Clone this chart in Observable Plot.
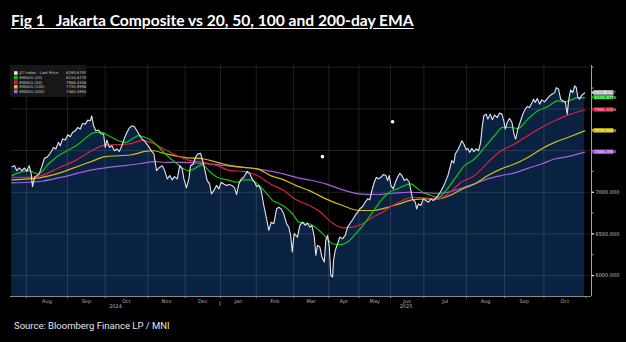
<!DOCTYPE html>
<html><head><meta charset="utf-8">
<script src="https://cdn.jsdelivr.net/npm/d3@7"></script>
<script src="https://cdn.jsdelivr.net/npm/@observablehq/plot@0.6"></script>
<style>
html,body{margin:0;padding:0;background:#000;}
#wrap{position:relative;width:626px;height:342px;background:#000;overflow:hidden;}
#title{position:absolute;left:11px;top:11px;color:#fff;font:bold 15.6px Lato, sans-serif;text-decoration:underline;text-underline-offset:2px;white-space:nowrap;}
#chart{position:absolute;left:0;top:55px;}
#source{position:absolute;left:14px;top:320px;color:#e6e6e6;font:9.5px Roboto, sans-serif;white-space:nowrap;}
</style></head>
<body><div id="wrap">
<div id="title">Fig 1&nbsp;&nbsp; Jakarta Composite vs 20, 50, 100 and 200-day EMA</div>
<div id="chart"></div>
<div id="source">Source: Bloomberg Finance LP / MNI</div>
</div>
<script>
// x = trading-day index from the start of the window (mid-Jul 2024)
const priceDay = [0.7,2.2,3.4,4.7,6.1,7.6,8.8,10.1,11.2,11.9,13,14.2,15.5,16.9,18.4,19.6,20.9,22.3,23.2,24.5,25.9,26.9,28.1,29.6,31,32.3,33.5,35,36.4,37.7,38.9,40.4,41.8,43.1,43.9,44.9,46.1,47.6,49,50.3,51.2,52.1,53.4,54.8,56.2,57.5,58.8,60.2,61.6,62.9,64.2,65.6,67,68.3,69.6,71,72.4,73.7,75,76.1,77.5,78.9,80.2,82,83.2,84.7,86.1,87.4,88.6,90.1,91.5,92.8,93.7,95.1,96.4,97.3,98.8,100,101.2,102.7,103.6,104.9,106.3,107.6,108.6,109.9,111.4,112.6,113.9,115.3,116.8,118,119.8,121.1,122.2,123.4,124.7,126.1,127.9,129.4,130.6,131.9,133,134.2,135.5,136.9,138.4,139.6,140.9,142.3,143.8,145,146.3,147.7,149.2,150.4,151.4,152.3,153.3,155.1,156.4,157.8,159.3,160.5,161.8,162.9,164.2,165,165.9,167.2,168.3,169.6,170.4,171.4,172.3,173.1,174.1,174.6,175.5,176.8,178,179.5,180.9,182.2,183.4,184.9,186.3,187.6,188.8,190.3,191.7,193,194.2,195.3,196.6,197.8,198.9,200.2,201.5,202.9,203.8,204.7,205.6,206.9,208,209.2,210.4,211.5,212.8,214.1,215.5,216.4,217.3,218.8,219.5,220.5,221.8,223.1,224.5,225.9,227.2,228.5,229.9,231.2,232.8,234.6,236.4,237.8,238.5,239.6,240.4,241.5,242.7,243.9,245,246.3,247.2,248.1,249.4,250.4,251.7,253,254.1,254.8,255.8,257.1,258,259.3,260.4,261.6,263.1,264.3,265.6,266.6,267.4,268.5,269.7,271,272.1,273,274.2,275.7,276.9,278.2,279.3,280.5,281.5,282.7,283.6,284.7,285.9,287.2,288.6,290.1,291.4,292.6,294.1,295,296.2,297.3,298.5,299.8,300.9,301.6,302.7,303.9,304.9,305.8,306.6,307.6,308.5,309.4,310.3];
const priceVal = [7307,7319,7259,7291,7259,7291,7251,7319,7220,7068,7179,7200,7220,7307,7411,7418,7450,7498,7538,7519,7598,7558,7638,7626,7690,7666,7717,7737,7777,7758,7825,7817,7865,7857,7917,7797,7737,7746,7698,7698,7538,7626,7538,7558,7498,7519,7490,7558,7650,7717,7770,7797,7785,7737,7690,7638,7618,7578,7538,7498,7460,7259,7291,7319,7268,7160,7200,7148,7188,7160,7319,7280,7160,7053,7160,7319,7339,7418,7459,7466,7399,7280,7140,7100,6981,7020,7080,7041,7120,7100,7080,7092,7080,7053,6973,7100,7160,7179,7251,7220,7160,7120,7068,7080,7020,6841,6682,6542,6641,6622,6801,6821,6801,6742,6622,6582,6483,6283,6505,6462,6602,6641,6602,6629,6582,6602,6462,6244,6363,6343,6223,6163,6423,6483,6343,6005,5984,6184,6303,6383,6462,6443,6483,6582,6622,6670,6722,6761,6801,6829,6880,6921,6909,7020,7120,7179,7160,7179,7212,7200,7140,7200,7080,7041,7120,7179,7227,7200,7140,7160,7120,7020,6921,6880,6801,6861,6841,6921,6901,6880,6921,6901,6933,6961,7020,7100,7200,7319,7379,7351,7459,7498,7550,7618,7578,7510,7526,7478,7526,7486,7519,7498,7598,7758,7917,7937,7877,7937,7869,7925,7896,7949,7937,7857,7758,7837,7884,7837,7698,7638,7758,7857,7937,7997,8028,8016,8057,8116,8076,8124,8057,8108,8084,8124,8156,8176,8195,8255,8236,8116,8096,8084,7937,8096,8227,8195,8275,8255,8135,8116,8156,8176,8190.68];

const ema20Day = [0.7,9.7,15.1,20.5,25.9,31.4,36.8,42.2,45.8,49.4,53,58.4,62,65.6,69.2,72.8,75.7,79.3,84.7,90.1,93.7,96.4,100,103.6,107.2,111.7,117.1,122.5,126.1,129.7,133.4,137.8,142.3,145,148.6,152.4,156,161.5,166.9,170.4,174.1,177.7,182.2,186.6,191.2,195.7,200.2,204.7,209.2,212.8,216.4,219.1,222.7,227.2,231.2,234.6,240,245.4,250.8,256.2,261.6,266.1,270.6,274.2,279.6,285,290.4,295.8,299.5,303.1,306.6,310.3];
const ema20Val = [7200,7259,7220,7339,7438,7507,7578,7678,7717,7717,7678,7618,7598,7638,7678,7657,7626,7558,7438,7339,7280,7259,7291,7331,7259,7179,7148,7120,7148,7148,7100,7000,6892,6868,6821,6742,6641,6622,6542,6462,6383,6371,6403,6503,6622,6761,6901,7000,7041,7080,7100,7060,7000,6961,6935,7000,7160,7319,7399,7538,7678,7777,7777,7765,7877,7976,8028,8096,8084,8108,8135,8134.88];

const ema50Day = [0.7,9.7,16.9,25.9,35,43.9,51.2,58.4,65.6,71,75.7,82.9,90.1,97.3,104.5,111.7,118.9,126.1,133.4,140.5,147.7,154.4,159.6,166.9,174.1,179.5,184.9,190.3,195.7,201.1,206.5,211.9,217.3,224.5,231.2,236.4,243.6,250.8,258,265.2,272.4,279.6,286.9,294.1,301.2,310.3];
const ema50Val = [7179,7179,7200,7291,7379,7498,7566,7570,7586,7618,7598,7519,7438,7379,7359,7319,7259,7251,7200,7100,7020,6909,6861,6773,6629,6574,6582,6622,6701,6761,6841,6901,6940,6933,6921,6981,7120,7200,7359,7498,7578,7678,7777,7857,7925,7986.43];

const ema100Day = [0.7,9.7,16.9,25.9,35,43.9,51.2,58.4,65.6,72.8,77.3,82.9,93.7,104.5,111.7,118.9,126.1,133.4,140.5,147.7,154.4,161.5,170.4,179.5,188.5,195.7,202.9,210.1,217.3,224.5,231.2,236.4,243.6,250.8,258,265.2,272.4,279.6,286.9,294.1,301.2,310.3];
const ema100Val = [7148,7160,7179,7227,7299,7370,7427,7438,7450,7490,7498,7466,7418,7399,7359,7319,7299,7280,7200,7148,7080,7020,6921,6841,6781,6781,6813,6861,6909,6921,6921,6952,7032,7100,7200,7280,7339,7418,7519,7598,7657,7736.0];

const ema200Day = [0.7,9.7,16.9,25.9,35,43.9,53,62,71,77.7,84.7,93.7,102.7,111.7,120.7,129.7,138.8,147.7,154.4,161.5,170.4,179.5,188.5,197.5,206.5,215.5,224.5,231.2,236.4,243.6,250.8,258,265.2,272.4,279.6,286.9,294.1,301.2,310.3];
const ema200Val = [7112,7120,7132,7172,7220,7268,7299,7319,7347,7367,7359,7359,7347,7331,7307,7291,7259,7220,7179,7148,7100,7029,6981,6973,6988,7000,6993,6988,7000,7048,7100,7160,7200,7232,7287,7339,7399,7427,7480.4];

const seriesNames = ["JCI Index - Last Price","EMAVG (20)","EMAVG (50)","EMAVG (100)","EMAVG (200)"];
const lastLabels = ["8190.6797","8134.8770","7986.4326","7735.9998","7480.3994"];
const seriesColors = ["#e4e4ec","#12c312","#dc1f45","#d2bd12","#a85fe0"];

const monthStarts = [8.6,30.8,51.2,74.2,94.4,113.5,132.8,153,172,188.3,205.4,223.4,246.5,267,288.3,311];
const monthNames = ["Aug","Sep","Oct","Nov","Dec","Jan","Feb","Mar","Apr","May","Jun","Jul","Aug","Sep","Oct"];
const yearNames = ["2024","2025"];
const yearBounds = [0,113.5,314];
const yLabelTicks = [6000,6500,7000];
const yMinorTicks = [6000,6250,6500,6750,7000,7250,7500,7750,8000,8250,8500];
const yGrid = [6000,6500,7000,7500,8000,8500];
const markerDay = [168.6,206.5];
const markerVal = [7427,7846];

const xDomain = [0,314];
const yDomain = [5750,8520];

const toRows = (ds, vs) => ds.map((d,i)=>({day:d, value:vs[i]}));
const price = toRows(priceDay, priceVal);
const emas = [toRows(ema20Day,ema20Val),toRows(ema50Day,ema50Val),toRows(ema100Day,ema100Val),toRows(ema200Day,ema200Val)];
const months = monthNames.map((m,i)=>({name:m, mid:(monthStarts[i]+monthStarts[i+1])/2}));
const years = yearNames.map((y,i)=>({name:y, mid:(yearBounds[i]+yearBounds[i+1])/2}));
const markers = toRows(markerDay, markerVal);

const gridStyle = {stroke:"#ffffff", strokeOpacity:0.12, strokeWidth:1};

const plot = Plot.plot({
  width:626, height:265,
  marginLeft:10, marginRight:35, marginTop:10, marginBottom:24,
  style:{background:"transparent", fontFamily:"DejaVu Sans, sans-serif", fontSize:"5px", color:"#b8b8b8"},
  x:{domain:xDomain, axis:null},
  y:{domain:yDomain, axis:null},
  marks:[
    Plot.areaY(price,{x:"day", y1:yDomain[0], y2:"value", fill:"#0a2241"}),
    Plot.ruleX(monthStarts.slice(0,-1), {...gridStyle}),
    Plot.ruleY(yGrid, {...gridStyle}),
    Plot.line(emas[3],{x:"day",y:"value",stroke:seriesColors[4],strokeWidth:1.2,curve:"monotone-x"}),
    Plot.line(emas[2],{x:"day",y:"value",stroke:seriesColors[3],strokeWidth:1.2,curve:"monotone-x"}),
    Plot.line(emas[1],{x:"day",y:"value",stroke:seriesColors[2],strokeWidth:1.2,curve:"monotone-x"}),
    Plot.line(emas[0],{x:"day",y:"value",stroke:seriesColors[1],strokeWidth:1.2,curve:"monotone-x"}),
    Plot.line(price,{x:"day",y:"value",stroke:seriesColors[0],strokeWidth:1.1}),
    Plot.dot(markers,{x:"day",y:"value",r:1.8,fill:"#ffffff"}),
    Plot.ruleY([yDomain[0]],{stroke:"#8a8a8a"}),
    Plot.ruleX([xDomain[1]],{stroke:"#a0a0a0"}),
    Plot.axisX({ticks:monthStarts, tickFormat:()=>"", tickSize:2, stroke:"#8a8a8a", label:null}),
    Plot.text(months,{x:"mid", y:yDomain[0], text:"name", dy:5, fill:"#b0b0b0", fontSize:5}),
    Plot.text(years,{x:"mid", y:yDomain[0], text:"name", dy:10, fill:"#b0b0b0", fontSize:5}),
    Plot.axisY({anchor:"right", ticks:yMinorTicks, tickFormat:()=>"", tickSize:1.5, stroke:"#a0a0a0", label:null}),
    Plot.axisY({anchor:"right", ticks:yLabelTicks, tickFormat:d=>d.toFixed(3), tickSize:2, tickPadding:2, stroke:"#ffffff", fill:"#c8c8c8", fontSize:5, label:null})
  ]
});
document.getElementById("chart").appendChild(plot);

const svg = d3.select(plot);
const xs = plot.scale("x"), ys = plot.scale("y");
const baseY = ys.apply(yDomain[0]);
// year divider
svg.append("line").attr("x1",xs.apply(yearBounds[1])).attr("x2",xs.apply(yearBounds[1]))
  .attr("y1",baseY+5).attr("y2",baseY+10).attr("stroke","#8a8a8a").attr("stroke-width",0.8);

// right-side value tags
const lastVals = [priceVal.at(-1), ema20Val.at(-1), ema50Val.at(-1), ema100Val.at(-1), ema200Val.at(-1)];
const axisX = xs.apply(xDomain[1]);
const textFill = ["#8a8a8a","#c8ffc8","#ffc8d4","#fff4b0","#ecd4ff"];
lastVals.forEach((v,i)=>{
  const y = ys.apply(v);
  const g = svg.append("g").attr("text-anchor","start");
  g.append("path").attr("d",`M${axisX+0.5},${y} L${axisX+2.5},${y-2.2} L${axisX+2.5},${y+2.2} Z`).attr("fill",seriesColors[i]);
  g.append("rect").attr("x",axisX+2.5).attr("y",y-2.2).attr("width",20).attr("height",4.4).attr("fill",seriesColors[i]);
  g.append("text").attr("x",axisX+3.5).attr("y",y+1.5).attr("font-size",4).attr("fill",textFill[i])
    .attr("font-family","DejaVu Sans Mono, monospace").text(lastLabels[i]);
});

// legend box (top-left inside the plot)
const lg = svg.append("g").attr("transform","translate(10,10)").attr("text-anchor","start");
lg.append("rect").attr("x",0).attr("y",0).attr("width",76).attr("height",32).attr("fill","#171717");
seriesNames.forEach((n,i)=>{
  const ry = 8 + i*4.6;
  lg.append("rect").attr("x",4).attr("y",ry-1.8).attr("width",3.6).attr("height",3.6).attr("fill",seriesColors[i]);
  lg.append("text").attr("x",9.5).attr("y",ry+1.4).attr("font-size",3.8).attr("fill","#c8c8c8")
    .attr("font-family","DejaVu Sans, sans-serif").text(n);
  lg.append("text").attr("x",56).attr("y",ry+1.4).attr("font-size",3.8).attr("fill","#c8c8c8")
    .attr("font-family","DejaVu Sans, sans-serif").text(lastLabels[i]);
});
</script>
</body></html>
